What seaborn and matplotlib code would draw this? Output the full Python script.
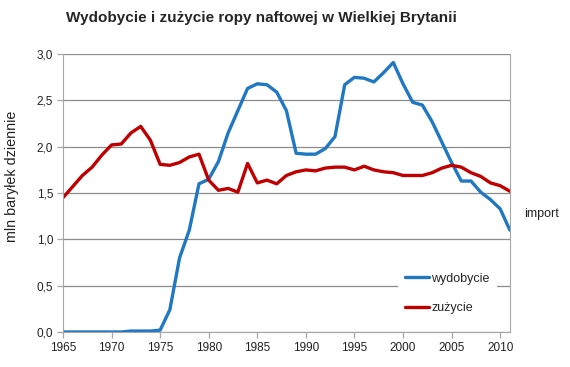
import pandas as pd
import matplotlib
matplotlib.use('Agg')
import matplotlib.pyplot as plt
from matplotlib.ticker import FuncFormatter
import seaborn as sns

sns.set_style('white')
plt.rcParams['font.family'] = ['Liberation Sans', 'DejaVu Sans']

years = list(range(1965, 2012))
# production (wydobycie), mln barrels per day
wydobycie = [0.00, 0.00, 0.00, 0.00, 0.00, 0.00, 0.00, 0.01, 0.01, 0.01,
             0.02, 0.24, 0.80, 1.10, 1.60, 1.65, 1.84, 2.15, 2.39, 2.63,
             2.68, 2.67, 2.59, 2.39, 1.93, 1.92, 1.92, 1.98, 2.11, 2.67,
             2.75, 2.74, 2.70, 2.80, 2.91, 2.68, 2.48, 2.45, 2.27, 2.05,
             1.83, 1.63, 1.63, 1.51, 1.43, 1.33, 1.10]
# consumption (zużycie)
zuzycie = [1.45, 1.57, 1.69, 1.78, 1.91, 2.02, 2.03, 2.15, 2.22, 2.07,
           1.81, 1.80, 1.83, 1.89, 1.92, 1.64, 1.53, 1.55, 1.51, 1.82,
           1.61, 1.64, 1.60, 1.69, 1.73, 1.75, 1.74, 1.77, 1.78, 1.78,
           1.75, 1.79, 1.75, 1.73, 1.72, 1.69, 1.69, 1.69, 1.72, 1.77,
           1.80, 1.78, 1.72, 1.68, 1.61, 1.58, 1.52]

df = pd.DataFrame({'rok': years + years,
                   'wartosc': wydobycie + zuzycie,
                   'seria': ['wydobycie'] * len(years) + ['zużycie'] * len(years)})

colors = {'wydobycie': '#1f78c1', 'zużycie': '#c00000'}

fig = plt.figure(figsize=(5.7, 3.67), dpi=100)
ax = fig.add_axes([0.1105, 0.0954, 0.784, 0.757])

sns.lineplot(data=df, x='rok', y='wartosc', hue='seria', palette=colors,
             linewidth=2.4, ax=ax, legend=False)

ax.set_xlim(1965, 2011)
ax.set_ylim(0, 3.0)
ax.set_xticks(range(1965, 2011, 5))
ax.set_yticks([0, 0.5, 1.0, 1.5, 2.0, 2.5, 3.0])
ax.yaxis.set_major_formatter(FuncFormatter(lambda v, p: f'{v:.1f}'.replace('.', ',')))
ax.grid(axis='y', color='#8c8c8c', linewidth=0.9)
ax.set_axisbelow(True)
for side in ['left', 'bottom', 'right']:
    ax.spines[side].set_color('#a6a6a6')
ax.spines['top'].set_visible(False)
ax.tick_params(axis='both', direction='out', length=4, width=0.9,
               color='#a6a6a6', labelsize=8.5, labelcolor='#222222', pad=3,
               bottom=True, left=True)

ax.set_xlabel('')
ax.set_ylabel('')
fig.text(12 / 570, 1 - 176 / 367, 'mln baryłek dziennie', fontsize=10.3,
         color='#222222', rotation=90, ha='center', va='center')

fig.text(261 / 570, 1 - 18 / 367,
         'Wydobycie i zużycie ropy naftowej w Wielkiej Brytanii',
         fontsize=11, fontweight='bold', ha='center', va='center')

handles = [plt.Line2D([], [], color=colors[k], linewidth=2.4) for k in colors]
leg = ax.legend(handles, list(colors), loc='lower left',
                bbox_to_anchor=(0.735, 0.015), frameon=True, facecolor='white',
                edgecolor='none', fancybox=False, fontsize=9,
                handlelength=1.9, handletextpad=0.2, labelspacing=1.4,
                borderpad=0.6)
leg.get_frame().set_alpha(1)

fig.text(524 / 570, 1 - 214 / 367, 'import', fontsize=9, color='#222222',
         ha='left', va='center')

fig.savefig('out.png', dpi=100)
